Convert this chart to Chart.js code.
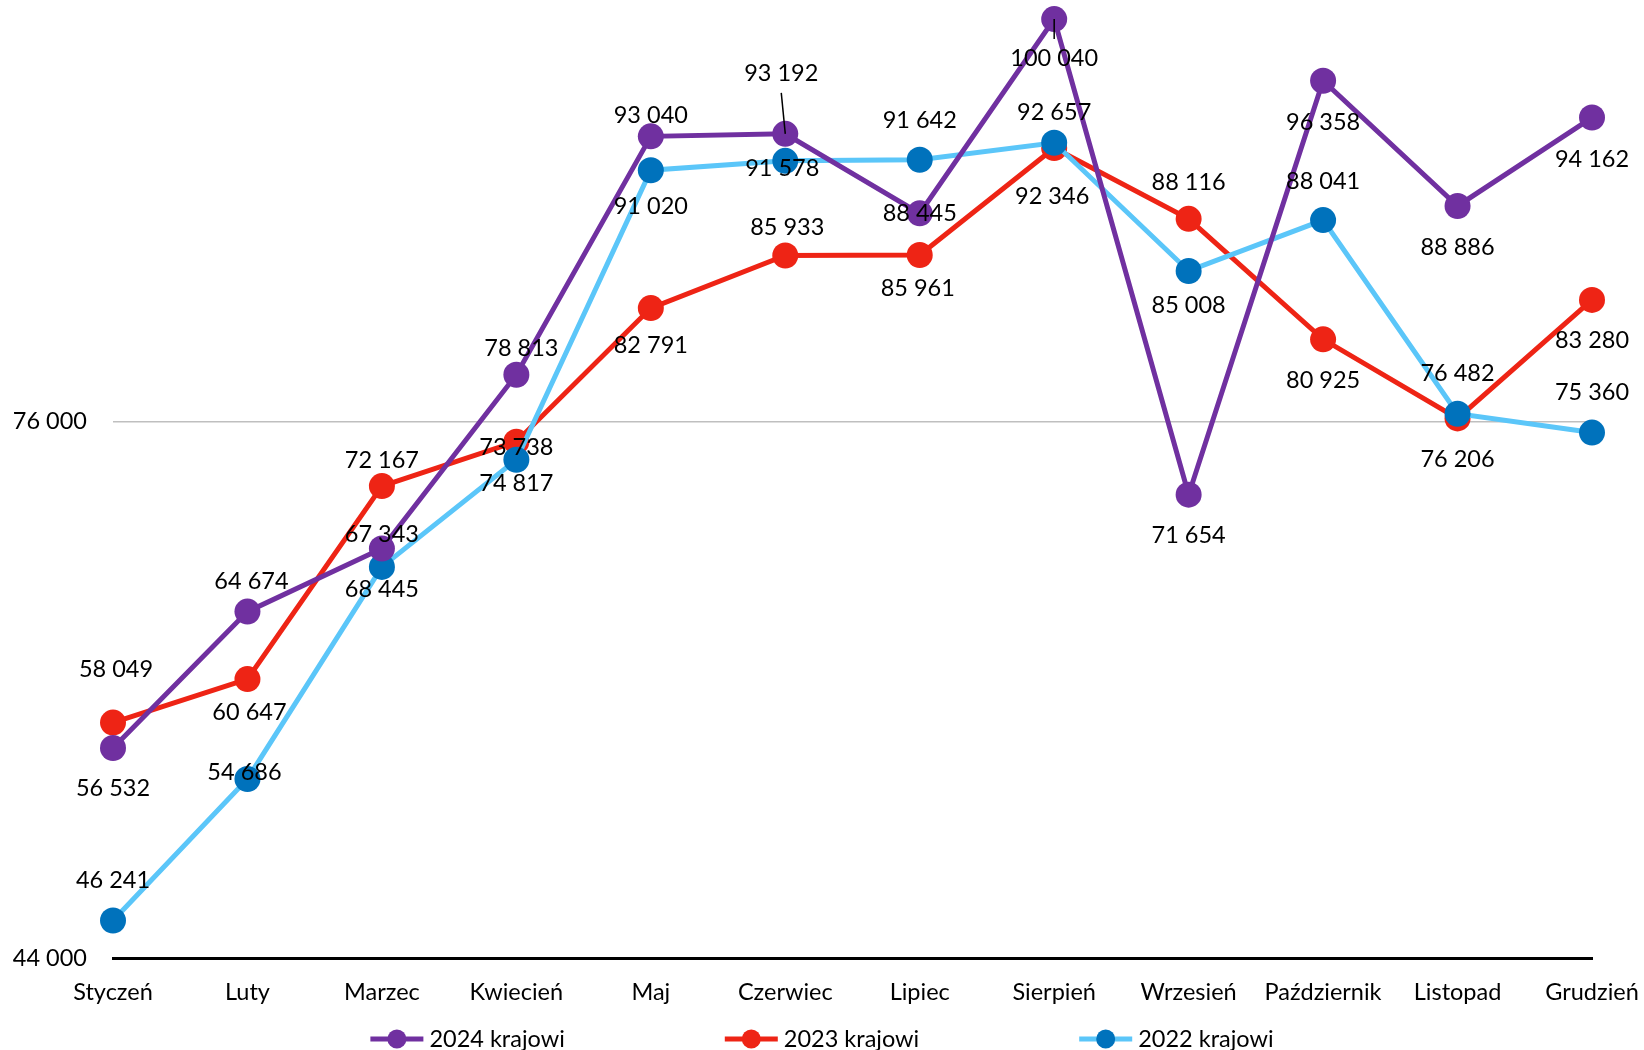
<!DOCTYPE html>
<html lang="pl">
<head>
<meta charset="utf-8">
<title>Krajowi 2022–2024</title>
<script src="https://cdn.jsdelivr.net/npm/chart.js@4.4.1/dist/chart.umd.min.js"></script>
<style>
  html, body { margin: 0; padding: 0; background: #fff; }
  canvas { display: block; }
</style>
</head>
<body>
<canvas id="chart" width="1644" height="1050"></canvas>
<script>
const months = ['Styczeń', 'Luty', 'Marzec', 'Kwiecień', 'Maj', 'Czerwiec', 'Lipiec',
  'Sierpień', 'Wrzesień', 'Październik', 'Listopad', 'Grudzień']
const values2024 = [56532, 64674, 68445, 78813, 93040, 93192, 88445, 100040, 71654, 96358, 88886, 94162]
const values2023 = [58049, 60647, 72167, 74817, 82791, 85933, 85961, 92346, 88116, 80925, 76206, 83280]
const values2022 = [46241, 54686, 67343, 73738, 91020, 91578, 91642, 92657, 85008, 88041, 76482, 75360]
const yTicks = [44000, 76000]

// where each value label sits, [dx, dy] in px from its point
const labelPos2024 = [[0, 40], [4, -30], [0, 41], [5, -26], [0, -21], [-4, -60], [0, 0], [0, 39], [0, 41], [0, 42], [0, 41], [0, 42]]
const labelPos2023 = [[3, -53], [2, 33], [0, -26], [0, 42], [0, 37], [2, -28], [-2, 33], [-2, 48], [0, -36], [0, 41], [0, 41], [0, 41]]
const labelPos2022 = [[0, -40], [-3, -7], [0, -32], [0, -12], [0, 36], [-3, 8], [0, -39], [0, -30], [0, 34], [0, -39], [0, -40], [0, -40]]
const leaders2024 = [false, false, false, false, false, true, false, true, false, false, false, false]

const FONT = 'Lato, "Open Sans", sans-serif'
const SIZE = 23.5
const fmt = (v) => String(v).replace(/\B(?=(\d{3})+(?!\d))/g, ' ')

const pointLabels = {
  id: 'pointLabels',
  afterDatasetsDraw(chart) {
    const ctx = chart.ctx
    ctx.save()
    ctx.font = SIZE + 'px ' + FONT
    ctx.fillStyle = '#000'
    ctx.strokeStyle = '#000'
    ctx.lineWidth = 1.5
    ctx.textAlign = 'center'
    ctx.textBaseline = 'middle'
    chart.data.datasets.forEach((ds, di) => {
      const meta = chart.getDatasetMeta(di)
      meta.data.forEach((pt, i) => {
        const [dx, dy] = ds.labelPos[i]
        const x = pt.x + dx
        const y = pt.y + dy
        if (ds.leaders && ds.leaders[i]) {
          ctx.beginPath()
          ctx.moveTo(pt.x, pt.y)
          ctx.lineTo(x, y - Math.sign(dy) * 19)
          ctx.stroke()
        }
        ctx.fillText(fmt(ds.data[i]), x, y)
      })
    })
    ctx.restore()
  },
}

const legendRow = {
  id: 'legendRow',
  afterDraw(chart) {
    const ctx = chart.ctx
    ctx.save()
    ctx.font = SIZE + 'px ' + FONT
    ctx.textBaseline = 'middle'
    ctx.textAlign = 'left'
    const lineLen = 53
    const gap = 6
    const spacing = 160
    const y = 1039
    const items = chart.data.datasets.map((ds) => ({
      ds,
      w: lineLen + gap + ctx.measureText(ds.label).width,
    }))
    const total = items.reduce((s, it) => s + it.w, 0) + spacing * (items.length - 1)
    let x = (chart.width - total) / 2
    items.forEach(({ ds, w }) => {
      ctx.strokeStyle = ds.borderColor
      ctx.lineWidth = 5
      ctx.beginPath()
      ctx.moveTo(x, y)
      ctx.lineTo(x + lineLen, y)
      ctx.stroke()
      ctx.fillStyle = ds.pointBackgroundColor
      ctx.beginPath()
      ctx.arc(x + lineLen / 2, y, 9.5, 0, Math.PI * 2)
      ctx.fill()
      ctx.fillStyle = '#000'
      ctx.fillText(ds.label, x + lineLen + gap, y)
      x += w + spacing
    })
    ctx.restore()
  },
}

const series = (label, data, line, marker, order, labelPos, leaders) => ({
  label,
  data,
  borderColor: line,
  backgroundColor: marker,
  pointBackgroundColor: marker,
  pointBorderWidth: 0,
  pointRadius: 13,
  pointHoverRadius: 13,
  borderWidth: 5,
  tension: 0,
  fill: false,
  clip: false,
  order,
  labelPos,
  leaders,
})

new Chart(document.getElementById('chart'), {
  type: 'line',
  data: {
    labels: months,
    datasets: [
      series('2024 krajowi', values2024, '#7030A0', '#7030A0', 0, labelPos2024, leaders2024),
      series('2023 krajowi', values2023, '#EE2415', '#EE2415', 2, labelPos2023),
      series('2022 krajowi', values2022, '#5BC6F9', '#0072BC', 1, labelPos2022),
    ],
  },
  options: {
    responsive: false,
    animation: false,
    events: [],
    layout: { autoPadding: false, padding: { top: 3, right: 52, bottom: 42, left: 0 } },
    plugins: {
      legend: { display: false },
      tooltip: { enabled: false },
    },
    scales: {
      x: {
        grid: { display: false, drawTicks: false },
        border: { color: '#000', width: 3 },
        ticks: {
          font: { family: FONT, size: SIZE },
          color: '#000',
          padding: 20,
          maxRotation: 0,
          autoSkip: false,
        },
        afterFit: (s) => {
          s.height = 50
          s.paddingLeft = 0
          s.paddingRight = 0
        },
      },
      y: {
        min: 44000,
        max: 101000,
        afterBuildTicks: (s) => {
          s.ticks = yTicks.map((v) => ({ value: v }))
        },
        grid: {
          color: (c) => (c.tick && c.tick.value === 76000 ? '#BFBFBF' : 'rgba(0,0,0,0)'),
          lineWidth: 1.5,
          drawTicks: false,
        },
        border: { display: false },
        ticks: {
          font: { family: FONT, size: SIZE },
          color: '#000',
          padding: 26,
          callback: (v) => fmt(v),
        },
        afterFit: (s) => {
          s.width = 113
          s.paddingTop = 0
          s.paddingBottom = 0
        },
      },
    },
  },
  plugins: [pointLabels, legendRow],
})
</script>
</body>
</html>
